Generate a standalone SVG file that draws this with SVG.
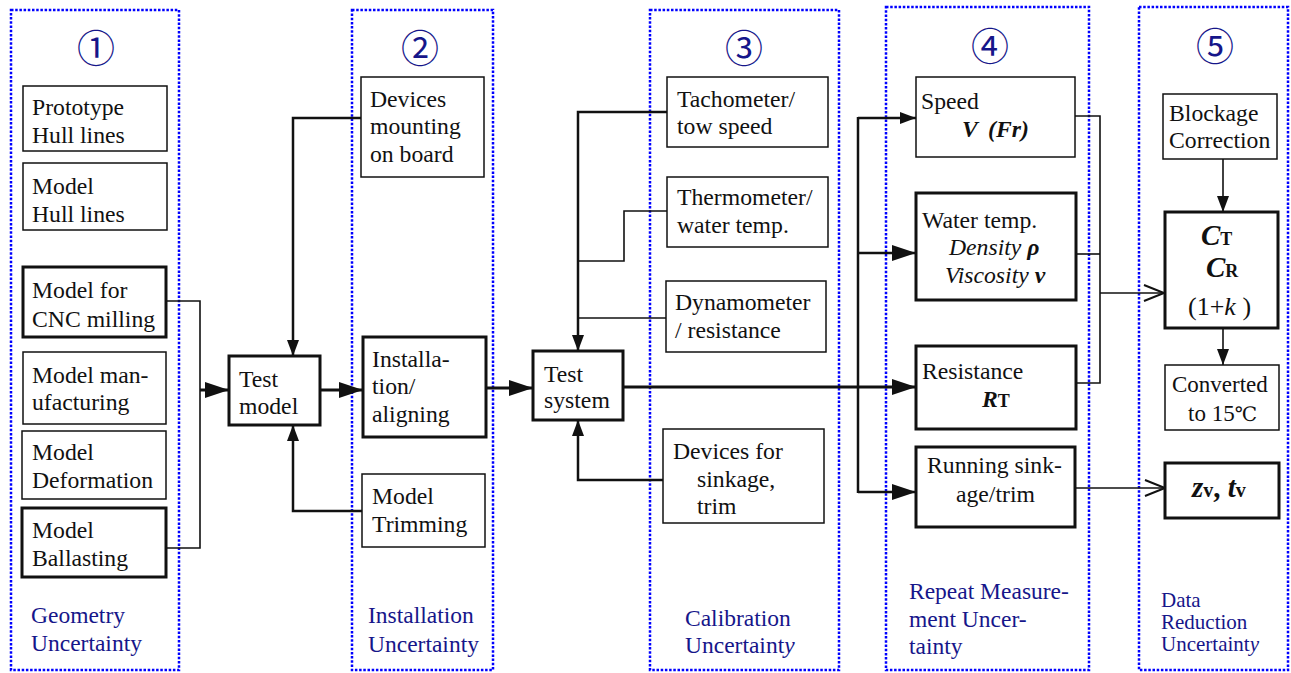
<svg xmlns="http://www.w3.org/2000/svg" width="1291" height="673" viewBox="0 0 1291 673" font-family="Liberation Serif, serif">
<style>
text{font-size:23.7px;fill:#111}
.lbl{fill:#16168a;font-size:23.5px}
.grp{fill:none;stroke:#0000ff;stroke-width:2.5;stroke-dasharray:2.5 1.7}
.thin{fill:#fff;stroke:#111;stroke-width:1.5}
.thick{fill:#fff;stroke:#111;stroke-width:3}
.c{fill:none;stroke:#111;stroke-width:1.6}
.c2{fill:none;stroke:#111;stroke-width:2.5}
.c3{fill:none;stroke:#111;stroke-width:3}
.bi{font-weight:bold;font-style:italic}
.it{font-style:italic}
.b{font-weight:bold}
.num{font-size:38px;fill:#16168a}
</style>
<defs>
<marker id="big" markerUnits="userSpaceOnUse" markerWidth="26" markerHeight="18" refX="24" refY="8" orient="auto"><path d="M0,0 L24,8 L0,16 z" fill="#111"/></marker>
<marker id="small" markerUnits="userSpaceOnUse" markerWidth="18" markerHeight="14" refX="16" refY="6" orient="auto"><path d="M0,0 L16,6 L0,12 z" fill="#111"/></marker>
<marker id="open" markerUnits="userSpaceOnUse" markerWidth="24" markerHeight="20" refX="21" refY="9" orient="auto"><path d="M1,1 L21,9 L1,17" fill="none" stroke="#111" stroke-width="2"/></marker>
</defs>

<g id="groups">
<rect class="grp" x="11" y="10" width="168" height="660"/>
<rect class="grp" x="352" y="10" width="141" height="660"/>
<rect class="grp" x="650" y="10" width="189" height="660"/>
<rect class="grp" x="886" y="7" width="203" height="663"/>
<rect class="grp" x="1139" y="7" width="149" height="663"/>
<g font-family="Noto Sans CJK JP, sans-serif" text-anchor="middle" dominant-baseline="central">
<text class="num" x="96" y="45">①</text>
<text class="num" x="420" y="45">②</text>
<text class="num" x="744" y="45">③</text>
<text class="num" x="990" y="43">④</text>
<text class="num" x="1215" y="43">⑤</text>
</g>
<text class="lbl" x="31" y="623">Geometry</text>
<text class="lbl" x="31" y="651">Uncertainty</text>
<text class="lbl" x="368" y="623">Installation</text>
<text class="lbl" x="368" y="652">Uncertainty</text>
<text class="lbl" x="685" y="626">Calibration</text>
<text class="lbl" x="685" y="653">Uncertaint<tspan class="it">y</tspan></text>
<text class="lbl" x="909" y="599">Repeat Measure-</text>
<text class="lbl" x="909" y="627">ment Uncer-</text>
<text class="lbl" x="909" y="654">tainty</text>
<text class="lbl" x="1161" y="607" style="font-size:21px">Data</text>
<text class="lbl" x="1161" y="629" style="font-size:21px">Reduction</text>
<text class="lbl" x="1161" y="651" style="font-size:21px">Uncertaint<tspan class="it">y</tspan></text>
</g>

<g id="connectors">
<polyline class="c" points="166,301 200,301 200,548 166,548"/>
<line class="c3" x1="200" y1="390" x2="229" y2="390" marker-end="url(#big)"/>
<polyline class="c2" points="361,118 293,118 293,356" marker-end="url(#small)"/>
<polyline class="c2" points="363,511 293,511 293,425" marker-end="url(#small)"/>
<line class="c3" x1="320" y1="390" x2="363" y2="390" marker-end="url(#big)"/>
<line class="c3" x1="486" y1="388" x2="533" y2="388" marker-end="url(#big)"/>
<polyline class="c2" points="667,112 578,112 578,351" marker-end="url(#small)"/>
<polyline class="c" points="667,211 624,211 624,261 578,261"/>
<line class="c" x1="666" y1="318" x2="578" y2="318"/>
<polyline class="c2" points="664,480 578,480 578,420" marker-end="url(#small)"/>
<line class="c3" x1="623" y1="387" x2="916" y2="387" marker-end="url(#big)"/>
<line class="c2" x1="858" y1="117" x2="858" y2="493"/>
<line class="c2" x1="858" y1="118" x2="916" y2="118" marker-end="url(#small)"/>
<line class="c2" x1="858" y1="253" x2="916" y2="253" marker-end="url(#big)"/>
<line class="c2" x1="858" y1="492" x2="916" y2="492" marker-end="url(#big)"/>
<polyline class="c" points="1075,116 1100,116 1100,383 1076,383"/>
<line class="c" x1="1076" y1="254" x2="1100" y2="254"/>
<line class="c" x1="1100" y1="293" x2="1164" y2="293" marker-end="url(#open)"/>
<line class="c" x1="1075" y1="488" x2="1165" y2="488" marker-end="url(#open)"/>
<line class="c" x1="1223" y1="159" x2="1223" y2="212" marker-end="url(#small)"/>
<line class="c" x1="1223" y1="328" x2="1223" y2="365" marker-end="url(#small)"/>
</g>

<g id="n-prototype"><rect class="thin" x="23" y="86" width="144" height="65"/><text x="32" y="115">Prototype</text><text x="32" y="143">Hull lines</text></g>
<g id="n-modelhull"><rect class="thin" x="23" y="163" width="144" height="67"/><text x="32" y="194">Model</text><text x="32" y="222">Hull lines</text></g>
<g id="n-cnc"><rect class="thick" x="23" y="267" width="143" height="70"/><text x="32" y="298">Model for</text><text x="32" y="327">CNC milling</text></g>
<g id="n-manufacturing"><rect class="thin" x="23" y="352" width="143" height="72"/><text x="32" y="383">Model man-</text><text x="32" y="410">ufacturing</text></g>
<g id="n-deformation"><rect class="thin" x="22" y="431" width="144" height="68"/><text x="32" y="460">Model</text><text x="32" y="488">Deformation</text></g>
<g id="n-ballasting"><rect class="thick" x="22" y="508" width="144" height="69"/><text x="32" y="538">Model</text><text x="32" y="566">Ballasting</text></g>
<g id="n-testmodel"><rect class="thick" x="229" y="356" width="91" height="69"/><text x="239" y="387">Test</text><text x="239" y="414">model</text></g>

<g id="n-mounting"><rect class="thin" x="361" y="77" width="123" height="100"/><text x="370" y="107">Devices</text><text x="370" y="134">mounting</text><text x="370" y="162">on board</text></g>
<g id="n-installation"><rect class="thick" x="363" y="337" width="123" height="100"/><text x="372" y="367">Installa-</text><text x="372" y="394">tion/</text><text x="372" y="422">aligning</text></g>
<g id="n-trimming"><rect class="thin" x="362" y="474" width="123" height="73"/><text x="372" y="504">Model</text><text x="372" y="532">Trimming</text></g>
<g id="n-testsystem"><rect class="thick" x="533" y="351" width="90" height="69"/><text x="544" y="382">Test</text><text x="544" y="408">system</text></g>

<g id="n-tachometer"><rect class="thin" x="667" y="77" width="161" height="70"/><text x="677" y="107">Tachometer/</text><text x="677" y="134">tow speed</text></g>
<g id="n-thermometer"><rect class="thin" x="667" y="177" width="161" height="70"/><text x="677" y="205">Thermometer/</text><text x="677" y="233">water temp.</text></g>
<g id="n-dynamometer"><rect class="thin" x="666" y="281" width="160" height="71"/><text x="675" y="310">Dynamometer</text><text x="675" y="338">/ resistance</text></g>
<g id="n-sinkdevices"><rect class="thin" x="663" y="429" width="161" height="94"/><text x="673" y="459">Devices for</text><text x="697" y="487">sinkage,</text><text x="697" y="514">trim</text></g>

<g id="n-speed"><rect class="thin" x="916" y="77" width="159" height="80"/><text x="921" y="109">Speed</text><text x="962" y="137" class="bi">V</text><text x="988" y="137" class="bi">(Fr)</text></g>
<g id="n-watertemp"><rect class="thick" x="916" y="193" width="160" height="107"/><text x="922" y="228">Water temp.</text><text x="949" y="255" class="it">Density <tspan class="bi">ρ</tspan></text><text x="945" y="283" class="it">Viscosity <tspan class="bi">v</tspan></text></g>
<g id="n-resistance"><rect class="thick" x="916" y="346" width="160" height="83"/><text x="922" y="379">Resistance</text><text x="982" y="407"><tspan class="bi">R</tspan><tspan class="b" style="font-size:18px">T</tspan></text></g>
<g id="n-running"><rect class="thick" x="916" y="447" width="159" height="80"/><text x="927" y="473">Running sink-</text><text x="956" y="502">age/trim</text></g>

<g id="n-blockage"><rect class="thin" x="1163" y="94" width="114" height="65"/><text x="1169" y="121">Blockage</text><text x="1169" y="148">Correction</text></g>
<g id="n-coeff"><rect class="thick" x="1165" y="212" width="113" height="116"/><text x="1201" y="245"><tspan class="bi" style="font-size:29px">C</tspan><tspan class="b" style="font-size:18px">T</tspan></text><text x="1206" y="277"><tspan class="bi" style="font-size:29px">C</tspan><tspan class="b" style="font-size:18px">R</tspan></text><text x="1188" y="315" style="font-size:26px">(1+<tspan class="it">k</tspan> )</text></g>
<g id="n-converted"><rect class="thin" x="1165" y="365" width="114" height="65"/><text x="1172" y="392" style="font-size:23px">Converted</text><text x="1188" y="421" style="font-size:23px">to 15<tspan font-family="DejaVu Serif, DejaVu Sans, serif" style="font-size:20px">℃</tspan></text></g>
<g id="n-zt"><rect class="thick" x="1165" y="463" width="114" height="55"/><text x="1192" y="497"><tspan class="bi" style="font-size:29px">z</tspan><tspan class="b" style="font-size:20px">v</tspan><tspan class="b" style="font-size:29px">, </tspan><tspan class="bi" style="font-size:29px">t</tspan><tspan class="b" style="font-size:20px">v</tspan></text></g>
</svg>
